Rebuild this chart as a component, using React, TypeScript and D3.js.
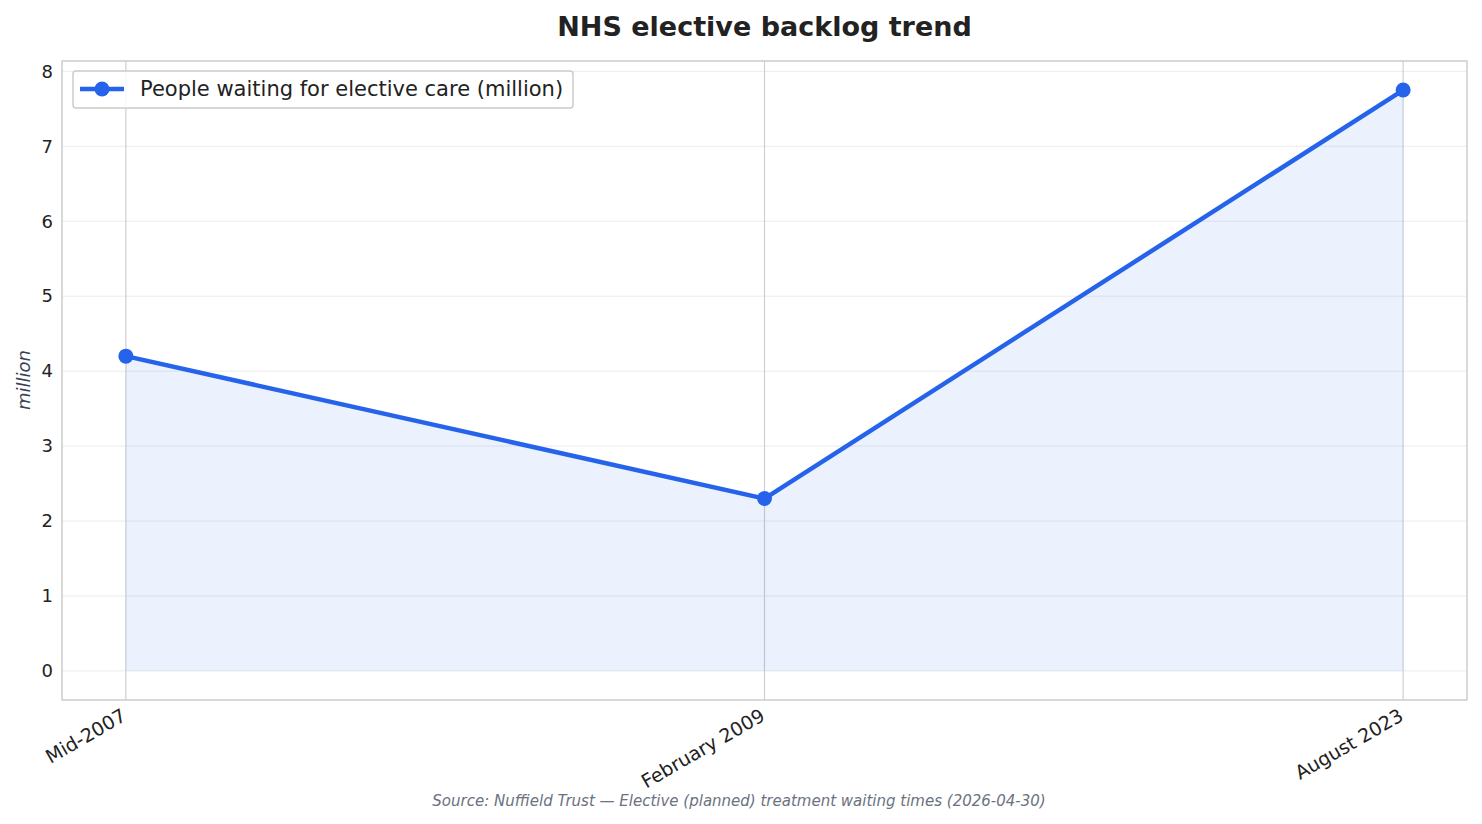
import { useRef, useLayoutEffect } from 'react';
import * as d3 from 'd3';

const categories = ['Mid-2007', 'February 2009', 'August 2023'];
const waiting = [4.2, 2.3, 7.75];
const yTicks = [0, 1, 2, 3, 4, 5, 6, 7, 8];

const W = 1482;
const H = 824;
const margin = { top: 61, right: 15, bottom: 124, left: 62 };
const blue = '#2563eb';
const font = 'DejaVu Sans, sans-serif';

const Chart = () => {
  const ref = useRef<SVGGElement>(null);

  useLayoutEffect(() => {
    const g = d3.select(ref.current);
    const iw = W - margin.left - margin.right;
    const ih = H - margin.top - margin.bottom;

    // matplotlib style 5% margins
    const x = d3.scaleLinear().domain([-0.1, categories.length - 1 + 0.1]).range([0, iw]);
    const yMax = d3.max(waiting);
    const pad = yMax * 0.05;
    const y = d3.scaleLinear().domain([-pad, yMax + pad]).range([ih, 0]);

    const plot = g.append('g').attr('transform', `translate(${margin.left},${margin.top})`);

    // horizontal grid
    plot
      .append('g')
      .selectAll('line')
      .data(yTicks)
      .join('line')
      .attr('x1', 0)
      .attr('x2', iw)
      .attr('y1', (d) => y(d))
      .attr('y2', (d) => y(d))
      .attr('stroke', '#ebebeb')
      .attr('stroke-width', 1);

    // vertical grid at categories
    plot
      .append('g')
      .selectAll('line')
      .data(categories)
      .join('line')
      .attr('x1', (_, i) => x(i))
      .attr('x2', (_, i) => x(i))
      .attr('y1', 0)
      .attr('y2', ih)
      .attr('stroke', '#cfcfd4')
      .attr('stroke-width', 1.2);

    const area = d3
      .area<number>()
      .x((_, i) => x(i))
      .y0(y(0))
      .y1((d) => y(d));
    plot.append('path').datum(waiting).attr('d', area).attr('fill', blue).attr('fill-opacity', 0.09);

    const line = d3
      .line<number>()
      .x((_, i) => x(i))
      .y((d) => y(d));
    plot
      .append('path')
      .datum(waiting)
      .attr('d', line)
      .attr('fill', 'none')
      .attr('stroke', blue)
      .attr('stroke-width', 4.5)
      .attr('stroke-linejoin', 'round');

    plot
      .append('g')
      .selectAll('circle')
      .data(waiting)
      .join('circle')
      .attr('cx', (_, i) => x(i))
      .attr('cy', (d) => y(d))
      .attr('r', 7.5)
      .attr('fill', blue);

    // frame
    plot
      .append('rect')
      .attr('width', iw)
      .attr('height', ih)
      .attr('fill', 'none')
      .attr('stroke', '#cccccc')
      .attr('stroke-width', 1.5);

    // y tick labels
    plot
      .append('g')
      .selectAll('text')
      .data(yTicks)
      .join('text')
      .attr('x', -9)
      .attr('y', (d) => y(d))
      .attr('dy', '0.35em')
      .attr('text-anchor', 'end')
      .attr('font-family', font)
      .attr('font-size', 18)
      .attr('fill', '#222')
      .text((d) => d);

    // x tick labels, rotated
    plot
      .append('g')
      .selectAll('text')
      .data(categories)
      .join('text')
      .attr('transform', (_, i) => `translate(${x(i) - 5},${ih + 8}) rotate(-30)`)
      .attr('dy', '0.7em')
      .attr('text-anchor', 'end')
      .attr('font-family', font)
      .attr('font-size', 19)
      .attr('fill', '#222')
      .text((d) => d);

    // y axis label
    g.append('text')
      .attr('transform', `translate(30,${margin.top + y(4) + 9}) rotate(-90)`)
      .attr('text-anchor', 'middle')
      .attr('font-family', font)
      .attr('font-style', 'italic')
      .attr('font-size', 18)
      .attr('fill', '#374151')
      .text('million');

    // title
    g.append('text')
      .attr('x', margin.left + iw / 2)
      .attr('y', 36)
      .attr('text-anchor', 'middle')
      .attr('font-family', font)
      .attr('font-weight', 'bold')
      .attr('font-size', 27)
      .attr('fill', '#222')
      .text('NHS elective backlog trend');

    // source note
    g.append('text')
      .attr('x', 739)
      .attr('y', 806)
      .attr('text-anchor', 'middle')
      .attr('font-family', font)
      .attr('font-style', 'italic')
      .attr('font-size', 15)
      .attr('fill', '#6b7280')
      .text('Source: Nuffield Trust — Elective (planned) treatment waiting times (2026-04-30)');

    // legend
    const lg = plot.append('g').attr('transform', 'translate(11,10)');
    lg.append('rect')
      .attr('width', 500)
      .attr('height', 37)
      .attr('rx', 3)
      .attr('fill', 'white')
      .attr('fill-opacity', 0.85)
      .attr('stroke', '#cccccc')
      .attr('stroke-width', 1.5);
    lg.append('line')
      .attr('x1', 7)
      .attr('x2', 51)
      .attr('y1', 18)
      .attr('y2', 18)
      .attr('stroke', blue)
      .attr('stroke-width', 4.5);
    lg.append('circle').attr('cx', 29).attr('cy', 18).attr('r', 7.5).attr('fill', blue);
    lg.append('text')
      .attr('x', 67)
      .attr('y', 18)
      .attr('dy', '0.35em')
      .attr('font-family', font)
      .attr('font-size', 21)
      .attr('fill', '#222')
      .text('People waiting for elective care (million)');

    return () => {
      if (ref.current) ref.current.innerHTML = '';
    };
  }, []);

  return (
    <svg width={W} height={H} viewBox={`0 0 ${W} ${H}`} style={{ display: 'block', background: 'white' }}>
      <g ref={ref}></g>
    </svg>
  );
};

export default function App() {
  return (
    <div style={{ margin: -8 }}>
      <Chart />
    </div>
  );
}
